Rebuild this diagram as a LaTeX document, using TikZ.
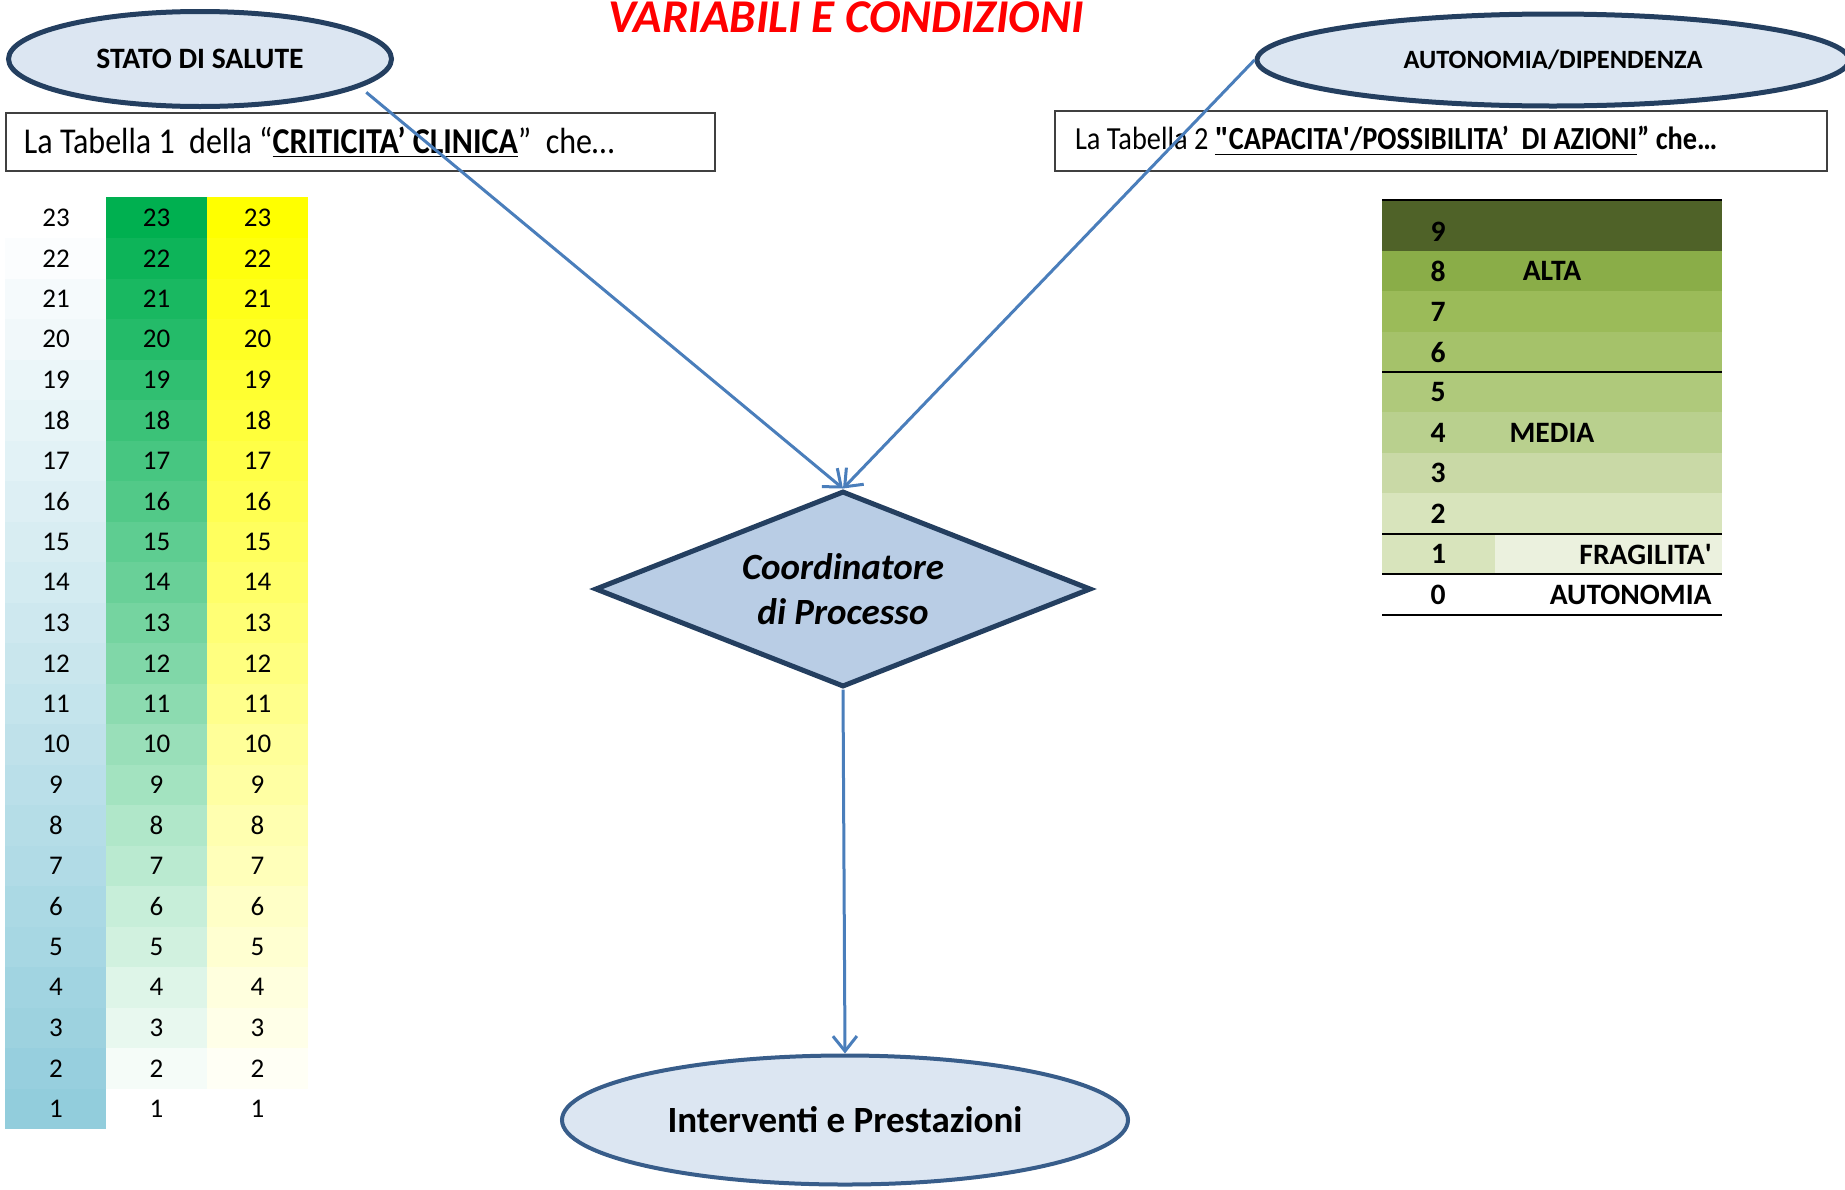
\documentclass[tikz,border=0pt]{standalone}
\usepackage{fontspec}
\setmainfont{Carlito}
\newfontfamily\straightq{Carlito}
\newfontfamily\narrowfont{Carlito}[FakeStretch=0.88]
\usepackage{tikz}
\usetikzlibrary{arrows.meta,positioning,shapes.geometric}
\definecolor{ovalfill}{HTML}{DCE6F2}
\definecolor{ovalline}{HTML}{243F60}
\definecolor{ovalline2}{HTML}{385D8A}
\definecolor{dmdfill}{HTML}{B9CDE5}
\definecolor{arrblue}{HTML}{4A7EBB}
\definecolor{tblue}{HTML}{92CDDC}
\definecolor{tgreen}{HTML}{00B050}
\definecolor{tyellow}{HTML}{FFFF00}
\definecolor{olive9}{HTML}{4F6228}
\definecolor{olive8}{HTML}{8AAD48}
\definecolor{olive7}{HTML}{9BBB59}
\definecolor{olive6}{HTML}{A5C26A}
\definecolor{olive5}{HTML}{AFC97B}
\definecolor{olive4}{HTML}{B9D08E}
\definecolor{olive3}{HTML}{C9D9A6}
\definecolor{olive2}{HTML}{D8E4BC}
\definecolor{olive1}{HTML}{EBF1DE}
\newcommand{\fsz}[2]{\fontsize{#1}{#2}\selectfont}
\newcommand{\sq}{{\straightq\char39}}
\newcommand{\dq}{{\straightq\char34}}
\tikzset{oval/.style={ellipse, draw=ovalline, line width=2.5pt, fill=ovalfill, inner sep=0pt}}
\tikzset{dmd/.style={diamond, aspect=2.5, draw=ovalline, line width=2.5pt, fill=dmdfill, inner sep=0pt, align=center}}
\tikzset{tabbox/.style={draw=black!75, line width=0.8pt, align=flush left, inner ysep=0pt}}
\tikzset{cell/.style={minimum width=50.8pt, minimum height=20.5pt, inner sep=0pt, outer sep=0pt, font=\fsz{13.5}{16}}}
\tikzset{band/.style={minimum width=170pt, minimum height=20.4pt, inner sep=0pt, outer sep=0pt}}
\tikzset{bnum/.style={inner sep=0pt, font=\bfseries\fsz{14.8}{17}}}
\tikzset{rule/.style={draw=black, line width=1.3pt}}
\tikzset{arr/.style={draw=arrblue, line width=1.5pt, -{Straight Barb[length=7.5pt,width=12pt]}}}

\begin{document}
\begin{tikzpicture}[x=0.5pt, y=-0.5pt]
		\useasboundingbox (0,0) rectangle (1845,1189);
		
		\node[font=\bfseries\itshape\fsz{23.5}{28}, text=red, anchor=base] (title) at (846,32) {VARIABILI E CONDIZIONI};
		
		\node[oval, minimum width=191.5pt, minimum height=47.5pt, font=\bfseries\fsz{14.8}{17}] (stato) at (200,59) {STATO DI SALUTE};
		\node[oval, minimum width=296pt, minimum height=46pt, font=\bfseries\fsz{13.2}{16}] (auto) at (1553,60) {AUTONOMIA/DIPENDENZA};
		
		\node[tabbox, minimum width=354.5pt, minimum height=29pt, inner xsep=9pt, text width=336.5pt, font=\narrowfont\fsz{18.2}{20}] (tab1) at (360.5,142)
			{La Tabella 1\ \ della “\underline{\textbf{CRITICITA’ CLINICA}}”\ \ che…};
		\node[tabbox, minimum width=386pt, minimum height=30pt, inner xsep=10pt, text width=366pt, font=\narrowfont\fsz{16.1}{18}] (tab2) at (1441,141)
			{La Tabella 2 \textbf{\underline{\dq CAPACITA\sq/POSSIBILITA’\ \ DI AZIONI}” che…}};
		
		% tabella 1
		\foreach \n in {1,...,23}{
			\pgfmathsetmacro\ya{197.5+(23.5-\n)*40.5}
			\pgfmathtruncatemacro\ka{(23-\n)*100/22}
			\pgfmathtruncatemacro\kb{(\n-1)*100/22}
			\node[cell, fill=tblue!\ka] (a\n) at (56,\ya) {\n};
			\node[cell, fill=tgreen!\kb] (b\n) at (156.5,\ya) {\n};
			\node[cell, fill=tyellow!\kb] (c\n) at (257.5,\ya) {\n};
		}
		
		% tabella 2
		\node[band, minimum height=25.5pt, fill=olive9] (r9) at (1552,225.5) {};
		\foreach \r/\c in {8/olive8,7/olive7,6/olive6,5/olive5,4/olive4,3/olive3,2/olive2,0/white}{
			\pgfmathsetmacro\yr{251+(8.5-\r)*40.4}
			\node[band, fill=\c] (r\r) at (1552,\yr) {};
			\node[bnum] at (1438,\yr) {\r};
		}
		\node[band, minimum width=56.5pt, fill=olive2] (r1a) at (1438.5,554) {};
		\node[band, minimum width=113.5pt, fill=olive1] (r1b) at (1608.5,554) {};
		\node[bnum] at (1438,232) {9};
		\node[bnum] at (r1a) {1};
		\node[bnum] at (r8) {ALTA};
		\node[bnum] at (r4) {MEDIA};
		\node[bnum, anchor=east] at ([xshift=-5pt]r1b.east) {FRAGILITA\sq};
		\node[bnum, anchor=east] at ([xshift=-5pt]r0.east) {AUTONOMIA};
		\draw[rule] (r9.north west) -- (r9.north east);
		\draw[rule] (r5.north west) -- (r5.north east);
		\draw[rule] (r2.south west) -- (r2.south east);
		\draw[rule] (r0.north west) -- (r0.north east);
		\draw[rule] (r0.south west) -- (r0.south east);
		
		\node[dmd, minimum width=248pt, minimum height=98pt, font=\bfseries\itshape\fsz{18.5}{22.5}] (coord) at (843,589) {Coordinatore\\di Processo};
		\node[oval, draw=ovalline2, line width=2pt, minimum width=283pt, minimum height=64.5pt, font=\bfseries\fsz{18.5}{22}] (interv) at (845,1120) {\raisebox{-3pt}{Interventi e Prestazioni}};
		
		\draw[arr, shorten <=4pt] (stato.-10) -- (coord.north);
		\draw[arr] (auto.west) -- (coord.north);
		\draw[arr] (coord.south) -- (interv.north);
	\end{tikzpicture}
\end{document}
